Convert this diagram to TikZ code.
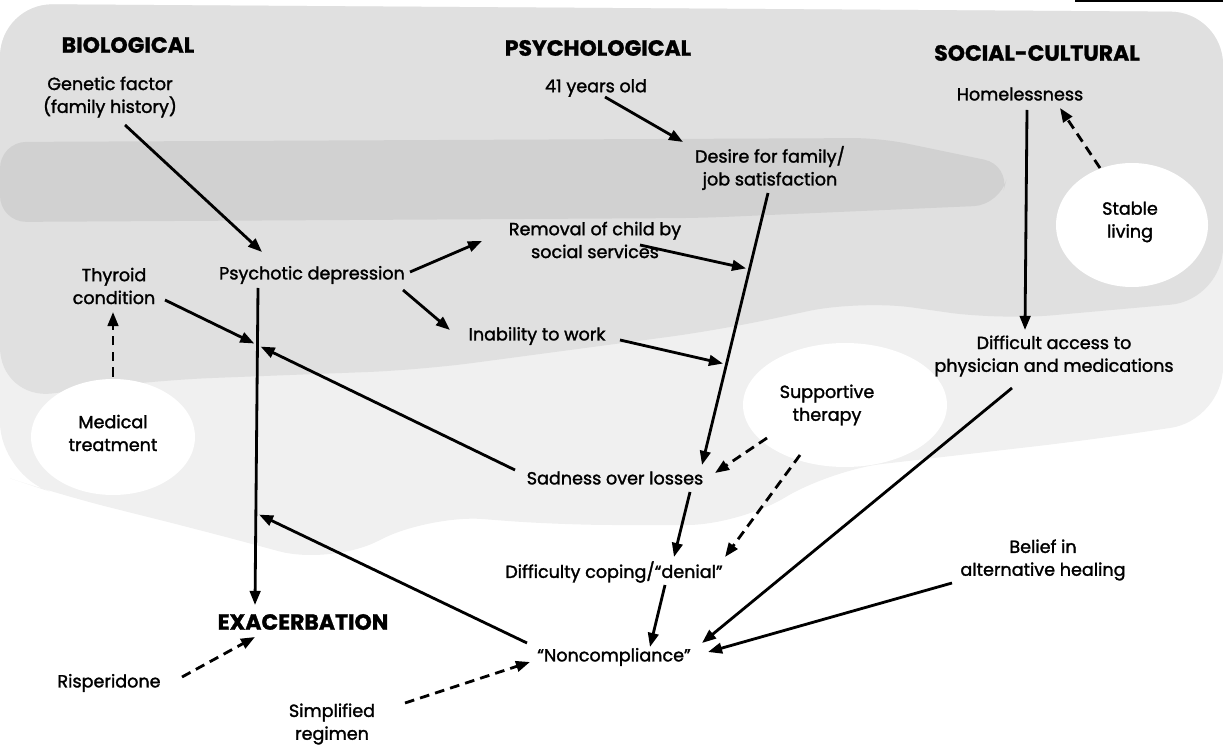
\documentclass[tikz,border=0pt]{standalone}
\usepackage{fontspec}
\setmainfont{Poppins}[UprightFeatures={FakeBold=1.6},BoldFeatures={FakeBold=1.2}]
\usetikzlibrary{arrows.meta,calc}
\tikzset{
	lbl/.style={inner sep=1pt,align=center,font=\fontsize{10}{13}\selectfont},
	category/.style={inner sep=1pt,font=\fontsize{12.5}{14}\selectfont\bfseries},
	edge/.style={draw,black,line width=1.6pt,-{Triangle[length=8pt,width=6pt]}},
	dedge/.style={edge,dash pattern=on 5.5pt off 3.5pt}
}

\begin{document}
\begin{tikzpicture}[x=0.02cm,y=-0.02cm]
\useasboundingbox (0,0) rectangle (1223,749);

% screened background
\fill[gray!12,rounded corners=30pt] (0,4) -- (1223,12) -- (1223,420) -- (1090,440) -- (960,455) -- (830,470) -- (740,525) -- (560,525) -- (430,515) -- (330,565) -- (200,530) -- (60,495) -- (0,475) -- cycle;
\fill[gray!24,rounded corners=30pt] (0,4) -- (1223,12) -- (1223,300) -- (1000,320) -- (860,300) -- (720,330) -- (420,370) -- (160,380) -- (0,400) -- cycle;
\fill[gray!36,rounded corners=15pt] (0,142) -- (880,138) -- (1010,165) -- (1000,205) -- (700,218) -- (0,222) -- cycle;
\fill[white] (113,437) ellipse [x radius=82, y radius=58];
\fill[white] (1132,225) ellipse [x radius=76, y radius=62];
\fill[white] (845,405) ellipse [x radius=102, y radius=62];
\draw[line width=.8pt] (1075,1) -- (1223,1);

% headings
\node[category] (bio) at (128,45) {BIOLOGICAL};
\node[category] (psych) at (598,48) {PSYCHOLOGICAL};
\node[category] (soc) at (1037,53) {SOCIAL-CULTURAL};
\node[category] (exa) at (303,622) {EXACERBATION};

% factors
\node[lbl] (gen) at (110,97) {Genetic factor\\(family history)};
\node[lbl] (yrs) at (596,88) {41 years old};
\node[lbl] (des) at (770,168) {Desire for family/\\job satisfaction};
\node[lbl] (rem) at (595,240) {Removal of child by\\social services};
\node[lbl] (hom) at (1020,94) {Homelessness};
\node[lbl] (sta) at (1130,222) {Stable\\living};
\node[lbl] (thy) at (114,286) {Thyroid\\condition};
\node[lbl] (psy) at (312,275) {Psychotic depression};
\node[lbl] (med) at (113,433) {Medical\\treatment};
\node[lbl] (ina) at (537,336) {Inability to work};
\node[lbl] (sup) at (827,405) {Supportive\\therapy};
\node[lbl] (acc) at (1054,356) {Difficult access to\\physician and medications};
\node[lbl] (sad) at (615,478) {Sadness over losses};
\node[lbl] (cop) at (614,572) {Difficulty coping/“denial”};
\node[lbl] (non) at (614,657) {“Noncompliance”};
\node[lbl] (bel) at (1043,560) {Belief in\\alternative healing};
\node[lbl] (ris) at (109,683) {Risperidone};
\node[lbl] (sim) at (332,724) {Simplified\\regimen};

% long lines that others point at
\coordinate (dtop) at ($(des)+(-2,25)$);
\coordinate (dbot) at ($(sad)+(87,-13)$);
\coordinate (vtop) at ($(psy)+(-54,13)$);
\coordinate (vbot) at ($(exa)+(-48,-17)$);
\coordinate (jrem) at ($(dtop)!0.28!(dbot)$);
\coordinate (jina) at ($(dtop)!0.63!(dbot)$);
\coordinate (jv1) at ($(vtop)!0.18!(vbot)$);
\coordinate (jv2) at ($(vtop)!0.71!(vbot)$);

\draw[edge] (dtop) -- (dbot);
\draw[edge] (vtop) -- (vbot);

\draw[edge] ($(gen)+(15,28)$) -- ($(psy)+(-50,-23)$);
\draw[edge] ($(yrs)+(9,9)$) -- ($(des)+(-87,-26)$);
\draw[edge] ($(psy)+(98,-3)$) -- ($(rem)+(-113,1)$);
\draw[edge] ($(psy)+(91,15)$) -- ($(ina)+(-87,-6)$);
\draw[edge,shorten >=2pt] ($(rem)+(45,5)$) -- (jrem);
\draw[edge,shorten >=2pt] ($(ina)+(83,4)$) -- (jina);
\draw[edge,shorten >=2pt] ($(thy)+(51,14)$) -- (jv1);
\draw[edge,shorten >=2pt] ($(sad)+(-100,-8)$) -- (jv1);
\draw[edge,shorten >=2pt] ($(non)+(-87,-14)$) -- (jv2);
\draw[edge] ($(sad)+(75,14)$) -- ($(cop)+(60,-15)$);
\draw[edge] ($(cop)+(51,13)$) -- ($(non)+(36,-10)$);
\draw[edge] ($(acc)+(-42,32)$) -- ($(non)+(88,-14)$);
\draw[edge] ($(bel)+(-91,23)$) -- ($(non)+(94,-5)$);
\draw[edge] ($(hom)+(7,16)$) -- ($(acc)+(-29,-26)$);

\draw[dedge] ($(sup)+(-60,33)$) -- ($(sad)+(100,-5)$);
\draw[dedge] ($(sup)+(-27,50)$) -- ($(cop)+(111,-15)$);
\draw[dedge] ($(sta)+(-30,-54)$) -- ($(hom)+(40,14)$);
\draw[dedge] ($(med)+(0,-56)$) -- ($(thy)+(-1,26)$);
\draw[dedge] ($(ris)+(73,-6)$) -- ($(exa)+(-48,15)$);
\draw[dedge] ($(sim)+(73,-21)$) -- ($(non)+(-84,5)$);

\end{tikzpicture}
\end{document}
